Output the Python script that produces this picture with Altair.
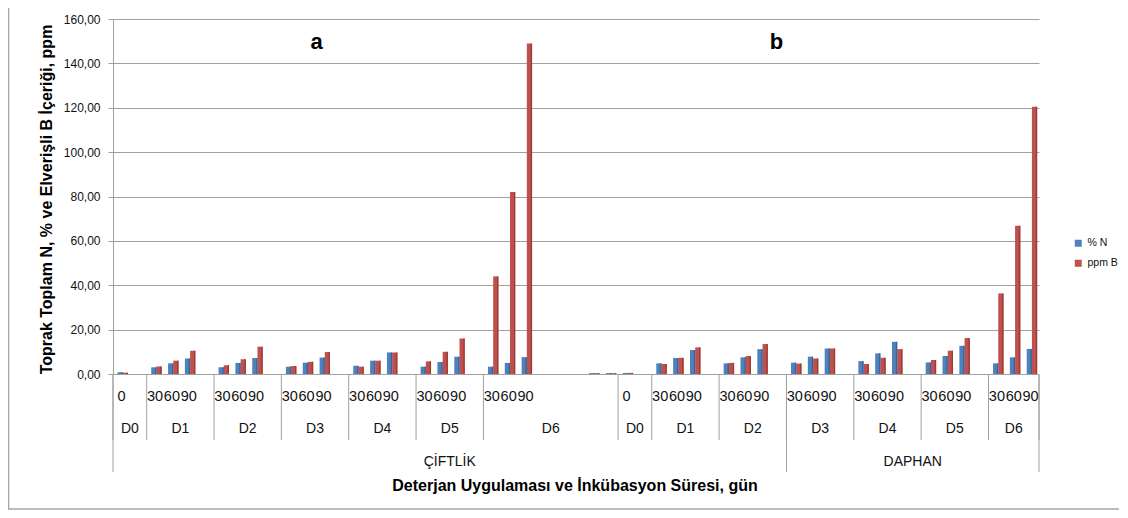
import altair as alt
import pandas as pd

# ---- category structure (one entry per category slot) ----
sub_labels = (["0", ""] + ["30", "60", "90", ""] * 5 + ["30", "60", "90", "", "", "", "", ""]
              + ["0", ""] + ["30", "60", "90", ""] * 5 + ["30", "60", "90"])
d_labels = ["D0", "D1", "D2", "D3", "D4", "D5", "D6", "D0", "D1", "D2", "D3", "D4", "D5", "D6"]
d_spans = [2, 4, 4, 4, 4, 4, 8, 2, 4, 4, 4, 4, 4, 3]
groups = ["ÇİFTLİK", "DAPHAN"]
group_spans = [40, 15]
panel_letters = ["a", "b"]
panel_letter_slot = [12.1, 39.4]

# ---- series values per slot (None = empty category) ----
N = None
pct_N = [0.8, N, 3.0, 4.8, 7.0, N, 3.0, 5.0, 7.2, N, 3.3, 5.1, 7.4, N,
         3.7, 6.0, 9.7, N, 3.3, 5.4, 7.8, N, 3.3, 5.0, 7.6, N, N, N, 0.4, 0.4,
         0.4, N, 4.8, 7.2, 10.8, N, 4.8, 7.5, 11.2, N, 5.1, 7.8, 11.5, N,
         5.8, 9.3, 14.5, N, 5.2, 8.1, 12.7, N, 4.8, 7.5, 11.3]
ppm_B = [0.6, N, 3.4, 6.0, 10.5, N, 4.0, 6.7, 12.3, N, 3.6, 5.5, 9.9, N,
         3.3, 6.0, 9.7, N, 5.7, 10.0, 16.0, N, 44.0, 82.0, 149.0, N, N, N, 0.4, 0.4,
         0.5, N, 4.5, 7.3, 12.0, N, 5.0, 8.1, 13.5, N, 4.7, 7.0, 11.5, N,
         4.5, 7.3, 11.2, N, 6.3, 10.5, 16.2, N, 36.3, 66.8, 120.4]
series_names = ["% N", "ppm B"]
colors = ["#4F81BD", "#C0504D"]
side_colors = ["#3A6496", "#963C3A"]

n_slots = len(sub_labels)
BW = 0.31   # bar width in slot units
SW = 0.08   # shaded side width in slot units
SH = 0.58   # pair centre inside slot

rows = []
for s in range(n_slots):
    for k, (name, vals) in enumerate(zip(series_names, [pct_N, ppm_B])):
        v = vals[s]
        if v is None:
            continue
        x0 = s + SH - BW + k * BW
        rows.append({"slot": s, "series": name, "value": v, "base": 0.0,
                     "x0": x0, "x1": x0 + BW, "xs": x0 + BW - SW,
                     "side": side_colors[k]})
bars_df = pd.DataFrame(rows)

sub_df = pd.DataFrame({"xc": [s + 0.5 for s in range(n_slots)], "label": sub_labels})
sub_df = sub_df[sub_df["label"] != ""]

d_bounds = [0]
for sp in d_spans:
    d_bounds.append(d_bounds[-1] + sp)
d_df = pd.DataFrame({"xc": [(d_bounds[i] + d_bounds[i + 1]) / 2 for i in range(len(d_labels))],
                     "label": d_labels})
g_bounds = [0]
for sp in group_spans:
    g_bounds.append(g_bounds[-1] + sp)
g_df = pd.DataFrame({"xc": [(g_bounds[i] + g_bounds[i + 1]) / 2 for i in range(len(groups))],
                     "label": groups})
dsep_df = pd.DataFrame({"xb": d_bounds})
gsep_df = pd.DataFrame({"xb": g_bounds})
letters_df = pd.DataFrame({"xc": panel_letter_slot, "label": panel_letters})

xscale = alt.Scale(domain=[0, n_slots], nice=False, zero=False)
yscale = alt.Scale(domain=[0, 160], nice=False)
FONT = "Liberation Sans"

bars = alt.Chart(bars_df).mark_bar().encode(
    x=alt.X("x0:Q", scale=xscale, axis=None),
    x2="x1:Q",
    y=alt.Y("value:Q",
            scale=yscale,
            axis=alt.Axis(values=[0, 20, 40, 60, 80, 100, 120, 140, 160],
                          labelExpr="replace(format(datum.value, '.2f'), '.', ',')",
                          grid=True, gridColor="#a0a0a0", gridWidth=1,
                          domainColor="#a0a0a0", tickColor="#a0a0a0", tickSize=5,
                          labelPadding=8, labelFontSize=12, labelFont=FONT, labelColor="#111111",
                          title="Toprak Toplam N, % ve Elverişli B İçeriği, ppm",
                          titleFont=FONT, titleFontSize=16, titleFontWeight="bold",
                          titleColor="#000000", titleX=-67, titleY=180, titleAngle=270,
                          titleAlign="center", titleBaseline="middle")),
    y2="base:Q",
    color=alt.Color("series:N",
                    scale=alt.Scale(domain=series_names, range=colors),
                    legend=alt.Legend(title=None, orient="none", legendX=960, legendY=219,
                                      symbolType="square", symbolSize=49, symbolStrokeWidth=0,
                                      labelFont=FONT, labelFontSize=10.5, labelColor="#111111",
                                      rowPadding=9, labelOffset=4, padding=0, labelLimit=60)),
)

sides = alt.Chart(bars_df).mark_bar().encode(
    x=alt.X("xs:Q", scale=xscale, axis=None),
    x2="x1:Q",
    y=alt.Y("value:Q", scale=yscale),
    y2="base:Q",
    color=alt.Color("side:N", scale=None),
)

sub_text = alt.Chart(sub_df).mark_text(font=FONT, fontSize=14.5, color="#111111",
                                       baseline="middle", align="center").encode(
    x=alt.X("xc:Q", scale=xscale), y=alt.value(378), text="label:N")

d_text = alt.Chart(d_df).mark_text(font=FONT, fontSize=14, color="#111111",
                                   baseline="middle", align="center").encode(
    x=alt.X("xc:Q", scale=xscale), y=alt.value(410), text="label:N")

g_text = alt.Chart(g_df).mark_text(font=FONT, fontSize=14, color="#111111",
                                   baseline="middle", align="center").encode(
    x=alt.X("xc:Q", scale=xscale), y=alt.value(443), text="label:N")

dsep = alt.Chart(dsep_df).mark_rule(color="#a0a0a0", strokeWidth=1).encode(
    x=alt.X("xb:Q", scale=xscale), y=alt.value(356), y2=alt.value(421))
gsep = alt.Chart(gsep_df).mark_rule(color="#a0a0a0", strokeWidth=1).encode(
    x=alt.X("xb:Q", scale=xscale), y=alt.value(356), y2=alt.value(453))

letters = alt.Chart(letters_df).mark_text(font=FONT, fontSize=22, fontWeight="bold",
                                          color="#000000", baseline="middle",
                                          align="center").encode(
    x=alt.X("xc:Q", scale=xscale), y=alt.value(23), text="label:N")

xtitle = alt.Chart(pd.DataFrame({"t": ["Deterjan Uygulaması ve İnkübasyon Süresi, gün"]})).mark_text(
    font=FONT, fontSize=16, fontWeight="bold", color="#000000", baseline="middle", align="center"
).encode(x=alt.value(462), y=alt.value(467), text="t:N")

border = alt.Chart(pd.DataFrame({"a": [0]})).mark_rule(color="#a6a6a6", strokeWidth=1.5).encode(
    x=alt.value(-104.5), x2=alt.value(-104.5), y=alt.value(-11), y2=alt.value(490))
border_b = alt.Chart(pd.DataFrame({"a": [0]})).mark_rule(color="#a6a6a6", strokeWidth=1.5).encode(
    x=alt.value(-105), x2=alt.value(1006), y=alt.value(490), y2=alt.value(490))

chart = alt.layer(bars, sides, dsep, gsep, sub_text, d_text, g_text, letters, xtitle,
                  border, border_b).properties(
    width=926, height=355,
    padding={"left": 105, "top": 11, "right": 81, "bottom": 136},
    autosize="none",
    background="white",
).configure_view(stroke=None)

chart.save("out.html", embed_options={"renderer": "svg", "actions": False})
